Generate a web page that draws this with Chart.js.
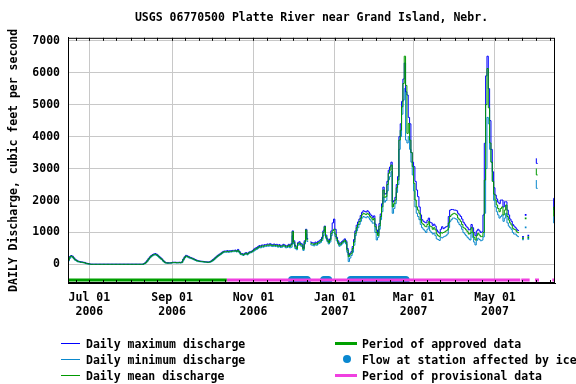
<!DOCTYPE html>
<html>
<head>
<meta charset="utf-8">
<script src="https://cdn.jsdelivr.net/npm/chart.js@4/dist/chart.umd.min.js"></script>
<style>
  html, body { margin: 0; padding: 0; background: #fff; }
  #wrap { position: relative; width: 576px; height: 384px; overflow: hidden; }
  #c { display: block; }
  .lg { position: absolute; font: bold 11.5px "DejaVu Sans Mono", monospace; color: #000; white-space: nowrap; line-height: 14px; height: 14px; }
  .ln { position: absolute; }
  .dot { position: absolute; width: 8px; height: 8px; border-radius: 50%; background: #0a88d0; }
</style>
</head>
<body>
<div id="wrap">
  <canvas id="c" width="576" height="384"></canvas>
  <div class="ln" style="left:61px;top:343px;width:19px;height:1px;background:#0000ff"></div>
  <div class="lg" style="left:86px;top:337px">Daily maximum discharge</div>
  <div class="ln" style="left:61px;top:359px;width:19px;height:1px;background:#0a88cc"></div>
  <div class="lg" style="left:86px;top:353px">Daily minimum discharge</div>
  <div class="ln" style="left:61px;top:375px;width:19px;height:1px;background:#009900"></div>
  <div class="lg" style="left:86px;top:369px">Daily mean discharge</div>
  <div class="ln" style="left:335px;top:342px;width:22px;height:3px;background:#00a000"></div>
  <div class="lg" style="left:362px;top:337px">Period of approved data</div>
  <div class="dot" style="left:343px;top:355px"></div>
  <div class="lg" style="left:362px;top:353px">Flow at station affected by ice</div>
  <div class="ln" style="left:335px;top:374px;width:22px;height:3px;background:#f040e0"></div>
  <div class="lg" style="left:362px;top:369px">Period of provisional data</div>
</div>
<script>
// Day 0 = 2006-06-15, day 365 = 2007-06-15
const titleText = 'USGS 06770500 Platte River near Grand Island, Nebr.';
const yTitle = 'DAILY Discharge, cubic feet per second';
const yTicks = [0, 1000, 2000, 3000, 4000, 5000, 6000, 7000];
const xTickDays = [16, 78, 139, 200, 259, 320];
const xTickLabels = [['Jul 01', '2006'], ['Sep 01', '2006'], ['Nov 01', '2006'], ['Jan 01', '2007'], ['Mar 01', '2007'], ['May 01', '2007']];
const monthStartDays = [-14, 16, 47, 78, 108, 139, 169, 200, 231, 259, 290, 320, 351];

const meanQ = [50,140,230,265,240,190,150,120,95,85,
75,70,60,55,35,25,20,10,5,5,
5,5,5,5,5,5,5,5,5,5,
5,5,5,5,5,5,5,5,5,5,
5,5,5,5,5,5,5,5,5,5,
5,5,5,5,5,5,5,10,30,60,
110,170,220,260,290,310,320,300,270,230,
190,160,110,70,50,45,45,45,50,60,
60,60,55,55,60,55,70,150,220,265,
250,230,210,195,180,160,140,120,110,100,
95,90,85,80,75,70,70,80,100,130,
160,200,240,270,300,330,360,390,400,400,
410,400,410,410,420,420,430,410,440,390,
330,320,300,330,350,320,360,380,390,420,
450,480,500,530,560,550,580,570,590,590,
610,600,620,600,590,610,590,600,570,590,
560,570,600,580,550,560,600,560,620,1025,
700,550,500,640,670,620,600,480,700,1080,
770,null,680,650,640,620,660,640,680,700,
735,800,1000,1180,870,760,680,760,975,1050,
1100,950,800,700,610,640,680,720,760,700,
450,245,300,350,500,700,975,1150,1250,1340,
1450,1550,1600,1580,1560,1600,1560,1500,1450,1390,
1440,1180,1000,900,1200,1500,1800,2330,2100,2120,
2500,2850,2950,3110,1800,1900,2015,2400,2640,3890,
4200,4930,5660,6515,5600,4100,4410,3890,3500,3060,
2540,2015,1800,1700,1600,1400,1290,1250,1200,1180,
1250,1340,1200,1180,1100,1150,1080,950,900,870,
1000,980,1000,1020,1050,1080,1300,1500,1550,1580,
1600,1580,1550,1450,1400,1340,1250,1150,1130,1080,
1025,950,975,1150,1000,850,765,900,975,920,
870,880,1000,2640,5000,6130,4900,3800,3200,2600,
2200,2015,1860,1750,1650,1750,1800,1550,1700,1860,
1500,1390,1300,1235,1130,1100,1080,1020,995,null,
null,820,null,1440,null,850,null,null,null,null,
null,3000,2800,null,null,null,null,null,null,null,
null,null,null,null,1500,1800];

const maxQ = [60,160,250,280,260,210,165,135,110,95,
85,80,70,65,45,35,28,15,10,10,
10,10,10,10,10,10,10,10,10,10,
10,10,10,10,10,10,10,10,10,10,
10,10,10,10,10,10,10,10,10,10,
10,10,10,10,10,10,10,15,45,80,
130,190,240,280,310,330,340,320,290,250,
210,175,125,85,60,55,55,55,60,70,
70,70,65,65,70,65,85,170,240,285,
270,250,225,210,195,175,155,135,120,110,
105,100,95,90,85,80,80,90,115,150,
180,220,260,290,320,350,380,410,420,420,
430,420,430,430,440,440,450,430,470,410,
350,340,320,350,370,340,380,400,410,440,
480,510,530,560,590,580,610,600,620,620,
640,630,650,630,620,640,620,630,600,620,
590,600,630,610,580,590,630,590,650,1050,
740,590,540,680,710,660,640,520,740,1100,
810,null,720,690,680,660,700,680,720,740,
780,850,1050,1200,920,800,720,800,1050,1300,
1420,1100,850,740,650,680,720,760,800,740,
500,300,350,400,560,780,1050,1230,1330,1420,
1530,1630,1680,1660,1640,1680,1640,1580,1530,1470,
1520,1260,1080,980,1280,1580,1900,2420,2200,2220,
2600,2950,3050,3200,1950,2000,2100,2500,2750,4000,
4400,5100,5800,6300,5400,5300,4600,4400,3500,3200,
3060,2600,2330,2120,1800,1550,1400,1350,1320,1300,
1380,1450,1320,1300,1220,1260,1200,1080,1020,980,
1100,1180,1120,1150,1180,1200,1500,1700,1720,1720,
1700,1700,1680,1600,1550,1500,1420,1320,1260,1200,
1150,1080,1100,1250,1150,1000,900,1050,1100,1050,
1000,1020,1550,3790,5900,6515,5500,4500,3600,2900,
2400,2170,2050,1950,1900,2015,2015,1800,1960,1960,
1700,1550,1420,1350,1250,1200,1150,1100,1060,null,
null,860,null,1550,null,900,null,null,null,null,
null,3320,3160,null,null,null,null,null,null,null,
null,null,null,null,1700,2070];

const minQ = [40,110,190,240,220,170,130,105,80,75,
65,60,50,45,25,15,12,5,0,0,
0,0,0,0,0,0,0,0,0,0,
0,0,0,0,0,0,0,0,0,0,
0,0,0,0,0,0,0,0,0,0,
0,0,0,0,0,0,0,5,20,45,
90,150,200,240,270,290,300,280,250,210,
170,145,95,55,40,35,35,35,40,50,
50,50,45,45,50,45,55,130,200,245,
230,210,195,180,165,145,125,105,100,90,
85,80,75,70,65,60,60,70,85,110,
140,180,220,250,280,310,340,370,380,380,
390,380,390,390,400,400,410,390,410,370,
310,300,280,310,330,300,340,360,370,400,
420,450,470,500,530,520,550,540,560,560,
580,570,590,570,560,580,560,570,540,560,
530,540,570,550,520,530,570,520,540,900,
640,500,460,600,630,580,560,440,640,950,
720,null,640,610,600,580,620,600,640,660,
690,750,900,1100,820,720,640,700,900,1000,
1000,880,740,650,570,600,640,680,720,640,
380,90,200,280,380,600,900,1050,1150,1250,
1350,1450,1500,1480,1460,1500,1460,1400,1350,1290,
1300,1000,765,850,1100,1400,1650,2100,1950,2000,
2300,2650,2750,2900,1600,1750,1900,2250,2500,3600,
4000,4700,5140,5500,3890,3800,4000,3600,3200,2800,
2300,1800,1600,1500,1400,1250,1150,1100,1050,1000,
1100,1200,1050,1000,950,980,900,800,780,750,
850,830,860,880,900,950,1150,1350,1400,1450,
1450,1430,1400,1320,1250,1200,1100,1000,950,900,
850,800,765,1000,850,700,610,750,820,780,
740,760,860,1600,3000,4600,4400,3600,3200,2600,
2000,1800,1650,1550,1450,1500,1550,1350,1450,1600,
1300,1200,1150,1100,1000,950,950,900,870,null,
null,780,null,1160,null,800,null,null,null,null,
null,2640,2380,null,null,null,null,null,null,null,
null,null,null,null,1290,1500];

const statusLevel = -490;
const approvedSegments = [[0, 119]];
const provisionalSegments = [[119, 339], [339.7, 346], [350, 353], [363, 365]];
const iceRanges = [[168, 179], [192, 195], [212, 253]];

const FONT = { family: '"DejaVu Sans Mono", monospace', size: 11.5, weight: 'bold', lineHeight: 1.2 };

function toPts(arr) { return arr.map((v, i) => ({ x: i, y: v })); }
function segPts(segs) {
  const out = [];
  segs.forEach((s, k) => {
    if (k > 0) out.push({ x: (segs[k - 1][1] + s[0]) / 2, y: null });
    out.push({ x: s[0], y: statusLevel }, { x: s[1], y: statusLevel });
  });
  return out;
}
function icePts() {
  const out = [];
  iceRanges.forEach(r => { for (let d = r[0]; d <= r[1]; d++) out.push({ x: d, y: statusLevel }); });
  return out;
}
function isoRadius(c) {
  const d = c.dataset.data, i = c.dataIndex;
  if (!d[i] || d[i].y == null) return 0;
  const p = d[i - 1], n = d[i + 1];
  return ((!p || p.y == null) && (!n || n.y == null)) ? 1.2 : 0;
}
function lineDs(label, arr, color, order) {
  return { label, data: toPts(arr), borderColor: color, backgroundColor: color, borderWidth: 1,
    stepped: 'after', pointRadius: isoRadius, pointStyle: 'rect', pointBorderWidth: 0,
    spanGaps: false, order, fill: false };
}

const framePlugin = {
  id: 'frame',
  afterDraw(chart) {
    const { ctx, chartArea: a, scales: { x } } = chart;
    ctx.save();
    ctx.strokeStyle = '#000';
    ctx.lineWidth = 1;
    ctx.strokeRect(a.left + 0.5, a.top + 0.5, a.width - 1, a.height - 1);
    ctx.beginPath();
    monthStartDays.forEach(m => {
      [0, 10, 20].forEach(o => {
        const d = m + o;
        if (d <= 0 || d >= 365) return;
        const px = Math.round(x.getPixelForValue(d)) + 0.5;
        ctx.moveTo(px, a.top); ctx.lineTo(px, a.top + 3);
        ctx.moveTo(px, a.bottom); ctx.lineTo(px, a.bottom - 3);
      });
    });
    ctx.stroke();
    ctx.restore();
  }
};

new Chart(document.getElementById('c'), {
  type: 'line',
  data: {
    datasets: [
      lineDs('Daily mean discharge', meanQ, '#009900', 1),
      lineDs('Daily maximum discharge', maxQ, '#0000ff', 2),
      lineDs('Daily minimum discharge', minQ, '#0a88cc', 3),
      { label: 'Period of approved data', data: segPts(approvedSegments), borderColor: '#00a000', borderWidth: 3, pointRadius: 0, spanGaps: false, order: 4 },
      { label: 'Period of provisional data', data: segPts(provisionalSegments), borderColor: '#f040e0', borderWidth: 3, pointRadius: 0, spanGaps: false, order: 4 },
      { label: 'Flow at station affected by ice', data: icePts(), showLine: false, pointRadius: 4.1, pointBorderWidth: 0, backgroundColor: '#0a88d0', borderColor: '#0a88d0', order: 5 }
    ]
  },
  options: {
    responsive: false,
    animation: false,
    devicePixelRatio: 1,
    parsing: false,
    normalized: true,
    layout: { padding: { left: 0, right: 21, top: 0, bottom: 61 } },
    plugins: {
      legend: { display: false },
      tooltip: { enabled: false },
      title: { display: true, text: titleText, color: '#000', font: FONT, fullSize: false, padding: { top: 11, bottom: 13 } }
    },
    scales: {
      x: {
        type: 'linear', min: 0, max: 365,
        afterBuildTicks: s => { s.ticks = xTickDays.map(v => ({ value: v })); },
        afterFit: s => { s.height = 40; },
        grid: { color: '#c8c8c8', drawTicks: false, lineWidth: 1 },
        border: { color: '#000', width: 1 },
        ticks: { autoSkip: false, maxRotation: 0, padding: 8, color: '#000', font: FONT,
          callback: (v, i) => xTickLabels[i] }
      },
      y: {
        type: 'linear', min: -580, max: 7090,
        afterBuildTicks: s => { s.ticks = yTicks.map(v => ({ value: v })); },
        afterFit: s => { s.width = 68; },
        grid: { color: '#c8c8c8', drawTicks: false, lineWidth: 1 },
        border: { color: '#000', width: 1 },
        ticks: { padding: 8, color: '#000', font: FONT, callback: v => String(v) },
        title: { display: true, text: yTitle, color: '#000', font: FONT, padding: { top: 7, bottom: 0 } }
      }
    }
  },
  plugins: [framePlugin]
});
</script>
</body>
</html>
